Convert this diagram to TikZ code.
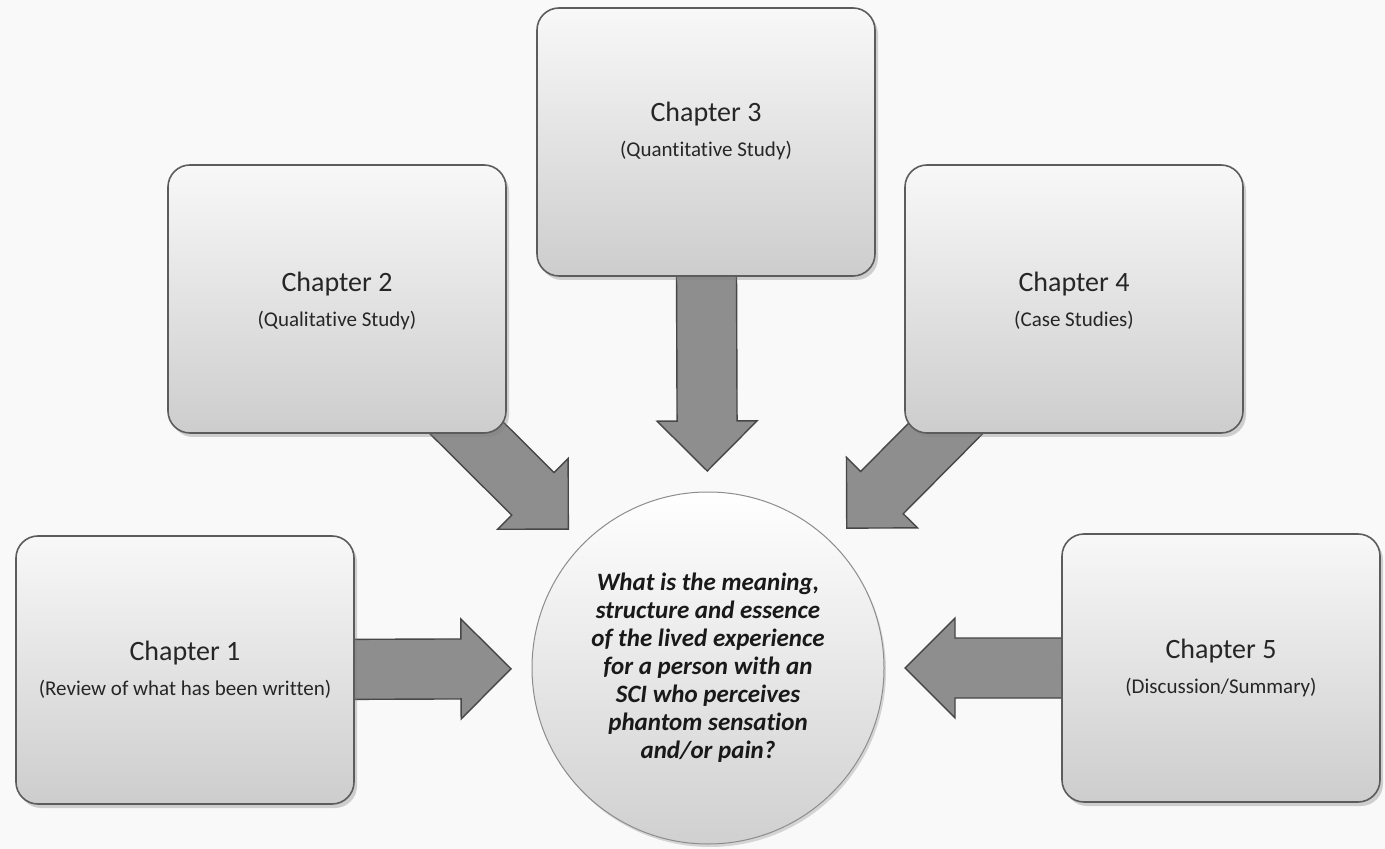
\documentclass[tikz,border=0pt]{standalone}
\usepackage{fontspec}
\setmainfont{Carlito}[Ligatures=NoCommon]
\usetikzlibrary{calc,shadows}

\pgfdeclarelayer{bg}
\pgfdeclarelayer{arr}
\pgfsetlayers{bg,arr,main}

\definecolor{paper}{HTML}{F9F9F9}
\definecolor{boxtop}{HTML}{F8F8F8}
\definecolor{boxmid}{HTML}{EFEFEF}
\definecolor{boxbot}{HTML}{CDCDCD}
\definecolor{boxedge}{HTML}{5C5C5C}
\definecolor{arrfill}{HTML}{8E8E8E}
\definecolor{arredge}{HTML}{474747}
\definecolor{ballbot}{HTML}{D0D0D0}

\newcommand{\subt}[1]{{\fontsize{10.5}{12}\selectfont #1}}

\tikzset{
  chbox/.style={draw=boxedge, line width=0.8pt, rounded corners=11pt,
    minimum width=169pt, minimum height=134pt,
    top color=boxtop, middle color=boxmid, bottom color=boxbot,
    drop shadow={shadow xshift=1.5pt, shadow yshift=-2pt, opacity=0.35}},
  chtext/.style={align=center, text=black!85, font=\fontsize{14}{17.5}\selectfont},
  question/.style={circle, draw=black!45, line width=0.5pt, minimum size=176pt,
    top color=white, bottom color=ballbot,
    drop shadow={shadow xshift=1pt, shadow yshift=-1.5pt, opacity=0.3},
    align=center, text=black!90,
    font=\fontsize{12.5}{14}\selectfont\bfseries\itshape},
  % block arrow: tip stops 21px short of the circle
  blockarrow/.style={fill=arrfill, draw=arredge, line width=0.7pt,
    to path={let \p1=($(\tikztotarget)!98.5pt!(\tikztostart)$),
                 \p2=($(\p1)!25pt!(\tikztostart)$) in
      ($(\tikztostart)!15pt!90:(\p1)$) -- ($(\p2)!15pt!90:(\p1)$)
      -- ($(\p2)!25pt!90:(\p1)$) -- (\p1) -- ($(\p2)!25pt!-90:(\p1)$)
      -- ($(\p2)!15pt!-90:(\p1)$) -- ($(\tikztostart)!15pt!-90:(\p1)$) -- cycle}}
}

\begin{document}
\begin{tikzpicture}[x=0.5pt,y=-0.5pt]
\useasboundingbox (0,0) rectangle (1385,849);
\begin{pgfonlayer}{bg}
\fill[paper] (0,0) rectangle (1385,849);
\end{pgfonlayer}

% centre question
\node[question] (q) at (708,668) {What is the meaning,\\ structure and essence\\ of the lived experience\\ for a person with an\\ SCI who perceives\\ phantom sensation\\ and/or pain?};

% chapter boxes
\node[chbox] (b1) at (185,670) {};
\node[chbox] (b2) at (337,299) {};
\node[chbox] (b3) at (706,142) {};
\node[chbox] (b4) at (1074,299) {};
\node[chbox, minimum width=159pt] (b5) at (1221,668) {};

\node[chtext] (l1) at (b1) {Chapter 1\\ \subt{(Review of what has been written)}};
\node[chtext] (l2) at ([yshift=-1pt]b2.center) {Chapter 2\\ \subt{(Qualitative Study)}};
\node[chtext] (l3) at ([yshift=5.5pt]b3.center) {Chapter 3\\ \subt{(Quantitative Study)}};
\node[chtext] (l4) at ([yshift=-1pt]b4.center) {Chapter 4\\ \subt{(Case Studies)}};
\node[chtext] (l5) at (b5) {Chapter 5\\ \subt{(Discussion/Summary)}};

% arrows into the question
\begin{pgfonlayer}{arr}
\draw[blockarrow] (b1.center) to (q.center);
\draw[blockarrow] (b2.center) to (q.center);
\draw[blockarrow] (b3.center) to (q.center);
\draw[blockarrow] (b4.center) to (q.center);
\draw[blockarrow] (b5.center) to (q.center);
\end{pgfonlayer}
\end{tikzpicture}
\end{document}
